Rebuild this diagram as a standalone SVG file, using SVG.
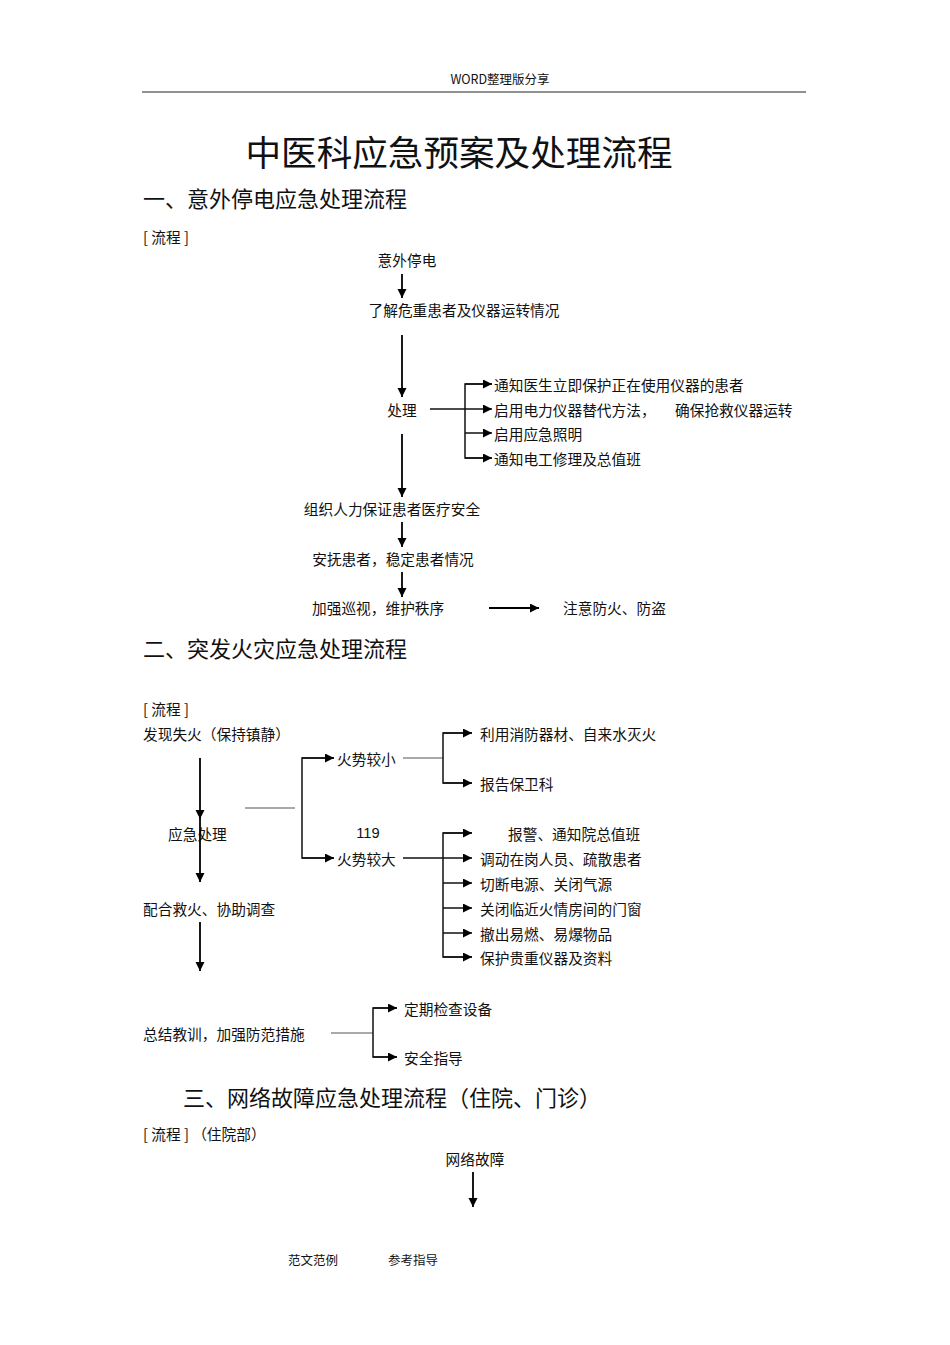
<svg xmlns="http://www.w3.org/2000/svg" width="950" height="1345" viewBox="0 0 950 1345">
<defs>
<marker id="ah" markerUnits="userSpaceOnUse" markerWidth="10" markerHeight="10" refX="9" refY="4.5" orient="auto">
<path d="M0,0 L9,4.5 L0,9 z" fill="#000"/>
</marker>
<style>
text{font-family:"Noto Sans CJK SC","Liberation Sans",sans-serif;fill:#111;dominant-baseline:central}
.t{font-size:14.7px}
.h{font-size:22px}
.s{font-size:12.5px}
.ln{stroke:#000;stroke-width:1.8;fill:none}
.br{stroke:#111;stroke-width:1.5;fill:none}
.g{stroke:#555;stroke-width:1.2;fill:none}
</style>
</defs>
<rect width="950" height="1345" fill="#fff"/>
<g id="header">
<text class="s" x="500" y="78" text-anchor="middle">WORD整理版分享</text>
<line x1="142" y1="92" x2="806" y2="92" stroke="#222" stroke-width="1"/>
</g>
<g id="title"><text x="459" y="150" text-anchor="middle" style="font-size:35.6px">中医科应急预案及处理流程</text></g>
<g id="sec1">
<text class="h" x="143" y="197">一、意外停电应急处理流程</text>
<text class="t" x="143" y="236">[ 流程 ]</text>
</g>
<g id="n-tingdian"><text class="t" x="407" y="259" text-anchor="middle">意外停电</text></g>
<g id="n-liaojie"><text class="t" x="464" y="309" text-anchor="middle">了解危重患者及仪器运转情况</text></g>
<g id="n-chuli"><text class="t" x="402" y="409" text-anchor="middle">处理</text></g>
<g id="n-b1"><text class="t" x="494" y="384">通知医生立即保护正在使用仪器的患者</text></g>
<g id="n-b2"><text class="t" x="494" y="409">启用电力仪器替代方法，</text><text class="t" x="675" y="409">确保抢救仪器运转</text></g>
<g id="n-b3"><text class="t" x="494" y="433">启用应急照明</text></g>
<g id="n-b4"><text class="t" x="494" y="458">通知电工修理及总值班</text></g>
<g id="n-zuzhi"><text class="t" x="392" y="508" text-anchor="middle">组织人力保证患者医疗安全</text></g>
<g id="n-anfu"><text class="t" x="393" y="558" text-anchor="middle">安抚患者，稳定患者情况</text></g>
<g id="n-jiaqiang"><text class="t" x="312" y="607">加强巡视，维护秩序</text></g>
<g id="n-zhuyi"><text class="t" x="563" y="607">注意防火、防盗</text></g>
<g id="sec2">
<text class="h" x="143" y="647">二、突发火灾应急处理流程</text>
<text class="t" x="143" y="708">[ 流程 ]</text>
</g>
<g id="n-faxian"><text class="t" x="143" y="733">发现失火（保持镇静）</text></g>
<g id="n-yingji"><text class="t" x="168" y="833">应急处理</text></g>
<g id="n-xiao"><text class="t" x="337" y="758">火势较小</text></g>
<g id="n-da"><text class="t" x="337" y="858">火势较大</text></g>
<g id="n-119"><text class="t" x="368" y="833" text-anchor="middle" style="font-family:'Liberation Sans',sans-serif">119</text></g>
<g id="n-f1"><text class="t" x="480" y="733">利用消防器材、自来水灭火</text></g>
<g id="n-f2"><text class="t" x="480" y="783">报告保卫科</text></g>
<g id="n-f3"><text class="t" x="508" y="833">报警、通知院总值班</text></g>
<g id="n-f4"><text class="t" x="480" y="858">调动在岗人员、疏散患者</text></g>
<g id="n-f5"><text class="t" x="480" y="883">切断电源、关闭气源</text></g>
<g id="n-f6"><text class="t" x="480" y="908">关闭临近火情房间的门窗</text></g>
<g id="n-f7"><text class="t" x="480" y="933">撤出易燃、易爆物品</text></g>
<g id="n-f8"><text class="t" x="480" y="957">保护贵重仪器及资料</text></g>
<g id="n-peihe"><text class="t" x="143" y="908">配合救火、协助调查</text></g>
<g id="n-zongjie"><text class="t" x="143" y="1033">总结教训，加强防范措施</text></g>
<g id="n-dingqi"><text class="t" x="404" y="1008">定期检查设备</text></g>
<g id="n-anquan"><text class="t" x="404" y="1057">安全指导</text></g>
<g id="sec3">
<text class="h" x="183" y="1096">三、网络故障应急处理流程（住院、门诊）</text>
<text class="t" x="143" y="1133">[ 流程 ] （住院部）</text>
</g>
<g id="n-wangluo"><text class="t" x="475" y="1158" text-anchor="middle">网络故障</text></g>
<g id="footer">
<text class="s" x="288" y="1259">范文范例</text>
<text class="s" x="388" y="1259">参考指导</text>
</g>
<g id="connectors">
<line class="ln" x1="402" y1="274" x2="402" y2="298" marker-end="url(#ah)"/>
<line class="ln" x1="402" y1="335" x2="402" y2="397" marker-end="url(#ah)"/>
<line class="br" x1="430" y1="409" x2="492" y2="409" marker-end="url(#ah)"/>
<polyline class="br" points="492,384 465,384 465,458 492,458"/>
<line class="br" x1="465" y1="384" x2="492" y2="384" marker-end="url(#ah)"/>
<line class="br" x1="465" y1="433" x2="492" y2="433" marker-end="url(#ah)"/>
<line class="br" x1="465" y1="458" x2="492" y2="458" marker-end="url(#ah)"/>
<line class="ln" x1="402" y1="434" x2="402" y2="497" marker-end="url(#ah)"/>
<line class="ln" x1="402" y1="522" x2="402" y2="547" marker-end="url(#ah)"/>
<line class="ln" x1="402" y1="572" x2="402" y2="597" marker-end="url(#ah)"/>
<line class="ln" x1="489" y1="608" x2="539" y2="608" marker-end="url(#ah)"/>
<line class="ln" x1="200" y1="758" x2="200" y2="819" marker-end="url(#ah)"/>
<line class="ln" x1="200" y1="815" x2="200" y2="882" marker-end="url(#ah)"/>
<line class="g" x1="245" y1="808" x2="295" y2="808"/>
<polyline class="br" points="334,758 302,758 302,858 334,858"/>
<line class="br" x1="302" y1="758" x2="334" y2="758" marker-end="url(#ah)"/>
<line class="br" x1="302" y1="858" x2="334" y2="858" marker-end="url(#ah)"/>
<line class="g" x1="403" y1="758" x2="443" y2="758"/>
<polyline class="br" points="472,733 443,733 443,783 472,783"/>
<line class="br" x1="443" y1="733" x2="472" y2="733" marker-end="url(#ah)"/>
<line class="br" x1="443" y1="783" x2="472" y2="783" marker-end="url(#ah)"/>
<line class="br" x1="403" y1="858" x2="472" y2="858" marker-end="url(#ah)"/>
<polyline class="br" points="472,833 443,833 443,957 472,957"/>
<line class="br" x1="443" y1="833" x2="472" y2="833" marker-end="url(#ah)"/>
<line class="br" x1="443" y1="883" x2="472" y2="883" marker-end="url(#ah)"/>
<line class="br" x1="443" y1="908" x2="472" y2="908" marker-end="url(#ah)"/>
<line class="br" x1="443" y1="933" x2="472" y2="933" marker-end="url(#ah)"/>
<line class="br" x1="443" y1="957" x2="472" y2="957" marker-end="url(#ah)"/>
<line class="ln" x1="200" y1="922" x2="200" y2="971" marker-end="url(#ah)"/>
<line class="g" x1="331" y1="1033" x2="373" y2="1033"/>
<polyline class="br" points="397,1008 373,1008 373,1057 397,1057"/>
<line class="br" x1="373" y1="1008" x2="397" y2="1008" marker-end="url(#ah)"/>
<line class="br" x1="373" y1="1057" x2="397" y2="1057" marker-end="url(#ah)"/>
<line class="ln" x1="473" y1="1172" x2="473" y2="1207" marker-end="url(#ah)"/>
</g>
</svg>
